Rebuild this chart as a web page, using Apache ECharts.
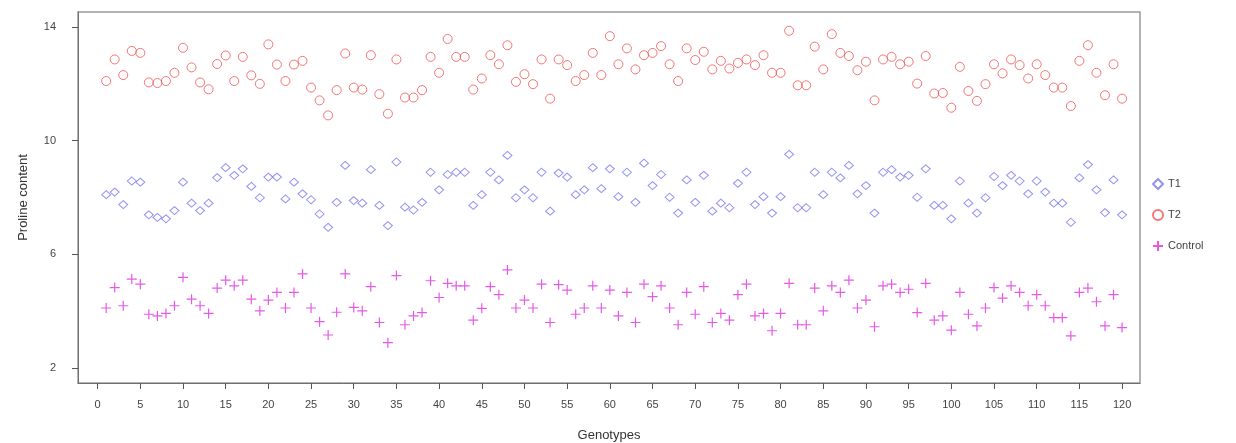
<!DOCTYPE html>
<html>
<head>
<meta charset="utf-8">
<script src="https://cdn.jsdelivr.net/npm/echarts@6/dist/echarts.min.js"></script>
<style>html,body{margin:0;padding:0;background:#fff;}#c{width:1236px;height:443px;}</style>
</head>
<body>
<div id="c"></div>
<script>
// Genotypes 1..120 (x position = index + 1)
var xTicks = [0,5,10,15,20,25,30,35,40,45,50,55,60,65,70,75,80,85,90,95,100,105,110,115,120];
var yTicks = [2,6,10,14];

var T1 = [8.1,8.19,7.75,8.58,8.54,7.39,7.30,7.25,7.54,8.54,7.80,7.54,7.80,8.7,9.05,8.78,9.01,8.39,7.99,8.72,
8.72,7.95,8.54,8.13,7.92,7.42,6.95,7.83,9.13,7.89,7.80,8.98,7.72,7.01,9.25,7.66,7.56,7.83,8.89,8.27,
8.81,8.89,8.89,7.72,8.1,8.89,8.62,9.48,7.99,8.27,7.99,8.89,7.52,8.86,8.72,8.1,8.27,9.05,8.31,9.01,
8.03,8.89,7.83,9.21,8.42,8.81,8.01,7.45,8.62,7.83,8.78,7.52,7.80,7.64,8.5,8.89,7.75,8.03,7.45,8.03,
9.52,7.64,7.64,8.89,8.1,8.89,8.69,9.13,8.13,8.42,7.45,8.89,8.98,8.72,8.78,8.01,9.01,7.72,7.72,7.25,
8.58,7.80,7.45,7.99,8.74,8.42,8.78,8.58,8.13,8.58,8.19,7.80,7.80,7.13,8.69,9.16,8.27,7.47,8.62,7.39];

var T2 = [12.1,12.86,12.31,13.16,13.09,12.05,12.03,12.1,12.39,13.27,12.58,12.05,11.81,12.7,13.0,12.1,12.95,12.3,12.0,13.39,
12.68,12.1,12.68,12.81,11.87,11.42,10.89,11.78,13.07,11.87,11.8,13.01,11.64,10.95,12.86,11.52,11.52,11.78,12.95,12.39,
13.58,12.95,12.95,11.8,12.19,13.01,12.69,13.36,12.07,12.34,11.99,12.86,11.48,12.86,12.66,12.1,12.31,13.09,12.31,13.68,
12.69,13.25,12.51,13.01,13.09,13.33,12.69,12.1,13.25,12.84,13.13,12.51,12.81,12.54,12.74,12.86,12.66,13.01,12.39,12.39,
13.87,11.95,11.95,13.31,12.51,13.75,13.09,12.98,12.48,12.78,11.42,12.86,12.95,12.69,12.78,12.01,12.98,11.66,11.68,11.16,
12.6,11.75,11.4,11.99,12.69,12.37,12.86,12.66,12.19,12.69,12.31,11.87,11.87,11.22,12.81,13.36,12.39,11.6,12.69,11.48];

var Control = [4.11,4.83,4.19,5.13,4.95,3.89,3.83,3.92,4.19,5.19,4.42,4.19,3.92,4.81,5.09,4.89,5.09,4.42,4.01,4.39,
4.66,4.11,4.66,5.31,4.11,3.63,3.16,3.96,5.31,4.13,4.01,4.86,3.60,2.89,5.25,3.52,3.83,3.95,5.07,4.48,
4.98,4.89,4.89,3.68,4.1,4.86,4.58,5.45,4.11,4.39,4.11,4.95,3.60,4.93,4.74,3.89,4.11,4.89,4.11,4.74,
3.83,4.66,3.60,4.95,4.51,4.89,4.11,3.52,4.66,3.89,4.86,3.60,3.92,3.68,4.58,4.95,3.83,3.92,3.31,3.92,
4.98,3.52,3.52,4.81,4.01,4.89,4.66,5.09,4.11,4.39,3.45,4.89,4.95,4.66,4.77,3.95,4.98,3.68,3.83,3.33,
4.66,3.89,3.48,4.11,4.83,4.46,4.89,4.66,4.19,4.58,4.19,3.77,3.77,3.13,4.66,4.81,4.33,3.48,4.58,3.42];

function pts(arr){ return arr.map(function(v,i){ return [i+1, v]; }); }

var chart = echarts.init(document.getElementById('c'), null, {renderer:'canvas'});
var font = 'Liberation Sans, Arial, sans-serif';
chart.setOption({
  animation: false,
  backgroundColor: '#fff',
  textStyle: {fontFamily: font},
  grid: {left: 78, right: 96, top: 12, bottom: 60, containLabel: false, outerBoundsMode: 'none',
         show: true, borderColor: '#9a9a9a', borderWidth: 1.5, backgroundColor: 'transparent'},
  legend: {
    orient: 'vertical', left: 1147, top: 173, itemGap: 19, itemWidth: 10, itemHeight: 10,
    textStyle: {fontSize: 11, color: '#444', fontFamily: font},
    data: ['T1','T2','Control']
  },
  xAxis: {
    type: 'value', min: -2.3, max: 122.1,
    name: 'Genotypes', nameLocation: 'middle', nameGap: 46,
    nameTextStyle: {fontSize: 13, color: '#333', fontFamily: font},
    axisLine: {show: true, onZero: false, lineStyle: {color: '#707070', width: 1}},
    axisTick: {show: true, length: 6, customValues: xTicks, lineStyle: {color: '#555'}},
    axisLabel: {customValues: xTicks, fontSize: 11, color: '#444', margin: 16, fontFamily: font},
    splitLine: {show: false}
  },
  yAxis: {
    type: 'value', min: 1.47, max: 14.53,
    name: 'Proline content', nameLocation: 'middle', nameGap: 48, nameRotate: 90,
    nameTextStyle: {fontSize: 13, color: '#333', fontFamily: font},
    axisLine: {show: true, onZero: false, lineStyle: {color: '#707070', width: 1}},
    axisTick: {show: true, length: 6, customValues: yTicks, lineStyle: {color: '#555'}},
    axisLabel: {customValues: yTicks, fontSize: 11, color: '#444', margin: 22, fontFamily: font},
    splitLine: {show: false}
  },
  series: [
    {name: 'T1', type: 'scatter', data: pts(T1), symbol: 'diamond', symbolSize: [9, 8],
     itemStyle: {color: 'rgba(255,255,255,0)', borderColor: '#7878f0', borderWidth: 1}},
    {name: 'T2', type: 'scatter', data: pts(T2), symbol: 'circle', symbolSize: 9,
     itemStyle: {color: 'rgba(255,255,255,0)', borderColor: '#f05555', borderWidth: 1}},
    {name: 'Control', type: 'scatter', data: pts(Control), symbol: 'path://M5,0 L5,10 M0,5 L10,5', symbolSize: 10,
     itemStyle: {color: 'rgba(255,255,255,0)', borderColor: '#e030e0', borderWidth: 1.2}}
  ]
});
</script>
</body>
</html>
